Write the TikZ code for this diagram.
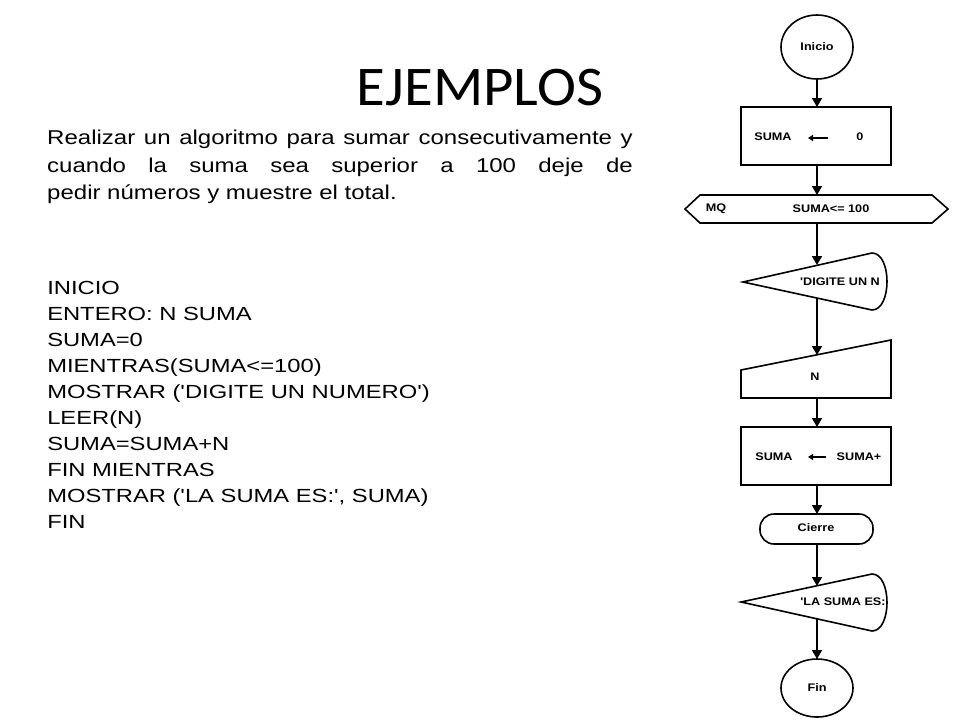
\documentclass[tikz,border=0pt]{standalone}
\usepackage{fontspec}
\setmainfont{Liberation Sans}
\newfontfamily\calib{Carlito}
\usetikzlibrary{arrows.meta}
\newcommand{\sq}{\textquotesingle}
\begin{document}
\begin{tikzpicture}[x=1pt,y=-1pt,
  shp/.style={draw,line width=1.6pt},
  fl/.style={font=\fontsize{11}{12}\selectfont\bfseries,inner sep=0pt,xscale=1.15},
  arr/.style={line width=1.6pt,-{Triangle[width=10pt,length=9pt]}},
  code/.style={anchor=base west,font=\fontsize{19}{20}\selectfont,inner sep=0pt,xscale=1.25}]
\useasboundingbox (0,0) rectangle (960,720);
\fill[white] (0,0) rectangle (960,720);
\node[font=\calib\fontsize{56}{60}\selectfont,xscale=1.05] (title) at (480,88) {EJEMPLOS};
\node[anchor=north west,text width=488pt,align=justify,inner sep=0pt,xscale=1.2,
  font=\fontsize{20}{27.5}\selectfont] (para) at (47,130)
  {Realizar un algoritmo para sumar consecutivamente y\linebreak cuando la suma sea superior a 100 deje de\linebreak pedir números y muestre el total.};
\node[code] (c1) at (47,294) {INICIO};
\node[code] (c2) at (47,320) {ENTERO: N SUMA};
\node[code] (c3) at (47,346) {SUMA=0};
\node[code] (c4) at (47,372) {MIENTRAS(SUMA<=100)};
\node[code] (c5) at (47,398) {MOSTRAR (\sq DIGITE UN NUMERO\sq)};
\node[code] (c6) at (47,424) {LEER(N)};
\node[code] (c7) at (47,450) {SUMA=SUMA+N};
\node[code] (c8) at (47,476) {FIN MIENTRAS};
\node[code] (c9) at (47,502) {MOSTRAR (\sq LA SUMA ES:\sq, SUMA)};
\node[code] (c10) at (47,528) {FIN};
% Inicio
\draw[shp] (817,47) ellipse [x radius=36,y radius=32];
\node[fl] (inicio) at (817,47) {Inicio};
\coordinate (b1) at (817,79);
% rect 1
\draw[shp] (741,107) rectangle (891,165);
\coordinate (t2) at (817,107); \coordinate (b2) at (817,165);
\node[fl] (s1) at (773,137) {SUMA};
\node[fl] (z1) at (860,137) {0};
\coordinate (a1s) at (828,138); \coordinate (a1e) at (808,138);
\draw[line width=1.2pt,-{Triangle[width=6pt,length=5pt]}] (a1s) -- (a1e);
% hexagon
\draw[shp] (685,209) -- (700,195) -- (932,195) -- (948,209) -- (932,223) -- (700,223) -- cycle;
\coordinate (t3) at (817,195); \coordinate (b3) at (817,223);
\node[fl] (mq) at (716,209) {MQ};
\node[fl] (cond) at (831,209) {SUMA<= 100};
% display 1
\draw[shp] (743,282) -- (872,253) .. controls (892,253) and (892,310) .. (872,310) -- cycle;
\coordinate (t4) at (817,265); \coordinate (b4) at (817,298);
\node[fl] (dig) at (840,282) {\sq DIGITE UN N};
% manual input
\draw[shp] (741,370) -- (891,340) -- (891,398) -- (741,398) -- cycle;
\coordinate (t5) at (817,355); \coordinate (b5) at (817,398);
\node[fl] (n) at (815,377) {N};
% rect 2
\draw[shp] (741,427) rectangle (891,485);
\coordinate (t6) at (817,427); \coordinate (b6) at (817,485);
\node[fl] (s2) at (774,457) {SUMA};
\node[fl] (s3) at (859,457) {SUMA+};
\coordinate (a2s) at (826,457); \coordinate (a2e) at (808,457);
\draw[line width=1.2pt,-{Triangle[width=6pt,length=5pt]}] (a2s) -- (a2e);
% Cierre
\draw[shp,rounded corners=14pt] (760,514) rectangle (873,544);
\coordinate (t7) at (817,514); \coordinate (b7) at (817,544);
\node[fl] (cierre) at (816,528) {Cierre};
% display 2
\draw[shp] (741,602) -- (872,574) .. controls (892,574) and (892,631) .. (872,631) -- cycle;
\coordinate (t8) at (817,586); \coordinate (b8) at (817,618);
\node[fl] (la) at (843,602) {\sq LA SUMA ES:};
% Fin
\draw[shp] (817,688) ellipse [x radius=36,y radius=29];
\node[fl] (fin) at (817,688) {Fin};
\coordinate (t9) at (817,659);
\draw[arr] (b1) -- (t2);
\draw[arr] (b2) -- (t3);
\draw[arr] (b3) -- (t4);
\draw[arr] (b4) -- (t5);
\draw[arr] (b5) -- (t6);
\draw[arr] (b6) -- (t7);
\draw[arr] (b7) -- (t8);
\draw[arr] (b8) -- (t9);
\end{tikzpicture}
\end{document}
